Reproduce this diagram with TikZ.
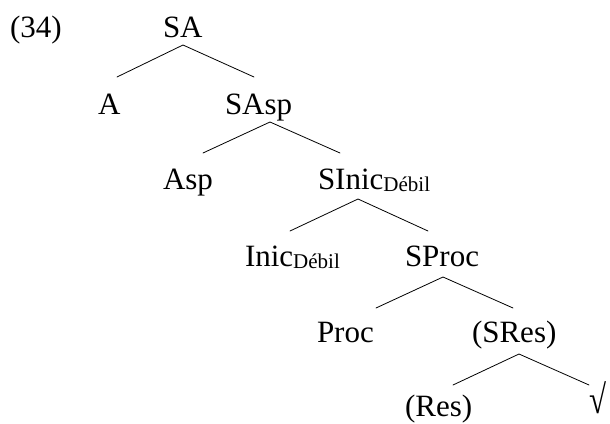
\documentclass[tikz,border=0pt]{standalone}
\usepackage{fontspec}
\usepackage{graphicx}
\setmainfont{Liberation Serif}
\newcommand{\sub}[1]{\raisebox{-2.5pt}{\fontsize{21}{24}\selectfont #1}}
\begin{document}
\begin{tikzpicture}[x=1pt,y=-1pt,
  lab/.style={anchor=base west,inner sep=0pt,outer sep=0pt,font=\fontsize{31}{36}\selectfont},
  branch/.style={line width=0.8pt,line cap=round}]
\useasboundingbox (0,0) rectangle (610,423);
% labels
\node[lab] (ex)    at (10,37)   {(34)};
\node[lab] (SA)    at (163,37)  {SA};
\node[lab] (A)     at (98,114)  {A};
\node[lab] (SAsp)  at (225,114) {SAsp};
\node[lab] (Asp)   at (163,189) {Asp};
\node[lab] (SInic) at (318,189) {SInic\sub{Débil}};
\node[lab] (Inic)  at (245,266) {Inic\sub{Débil}};
\node[lab] (SProc) at (405,266) {SProc};
\node[lab] (Proc)  at (317,342) {Proc};
\node[lab] (SRes)  at (472,342) {(SRes)};
\node[lab] (Res)   at (405,416) {(Res)};
\node[lab] (root)  at (589,413) {\scalebox{1}[1.3]{√}};
% branch points
\coordinate (SA-b)    at (183,45);
\coordinate (A-t)     at (117,77);
\coordinate (SAsp-t)  at (254,77);
\coordinate (SAsp-b)  at (270,122);
\coordinate (Asp-t)   at (203,153);
\coordinate (SInic-t) at (340,153);
\coordinate (SInic-b) at (358,199);
\coordinate (Inic-t)  at (290,231);
\coordinate (SProc-t) at (428,231);
\coordinate (SProc-b) at (443,277);
\coordinate (Proc-t)  at (376,308);
\coordinate (SRes-t)  at (513,308);
\coordinate (SRes-b)  at (519,354);
\coordinate (Res-t)   at (453,385);
\coordinate (root-t)  at (589,385);
% branches
\draw[branch] (A-t) -- (SA-b) -- (SAsp-t);
\draw[branch] (Asp-t) -- (SAsp-b) -- (SInic-t);
\draw[branch] (Inic-t) -- (SInic-b) -- (SProc-t);
\draw[branch] (Proc-t) -- (SProc-b) -- (SRes-t);
\draw[branch] (Res-t) -- (SRes-b) -- (root-t);
\end{tikzpicture}
\end{document}
